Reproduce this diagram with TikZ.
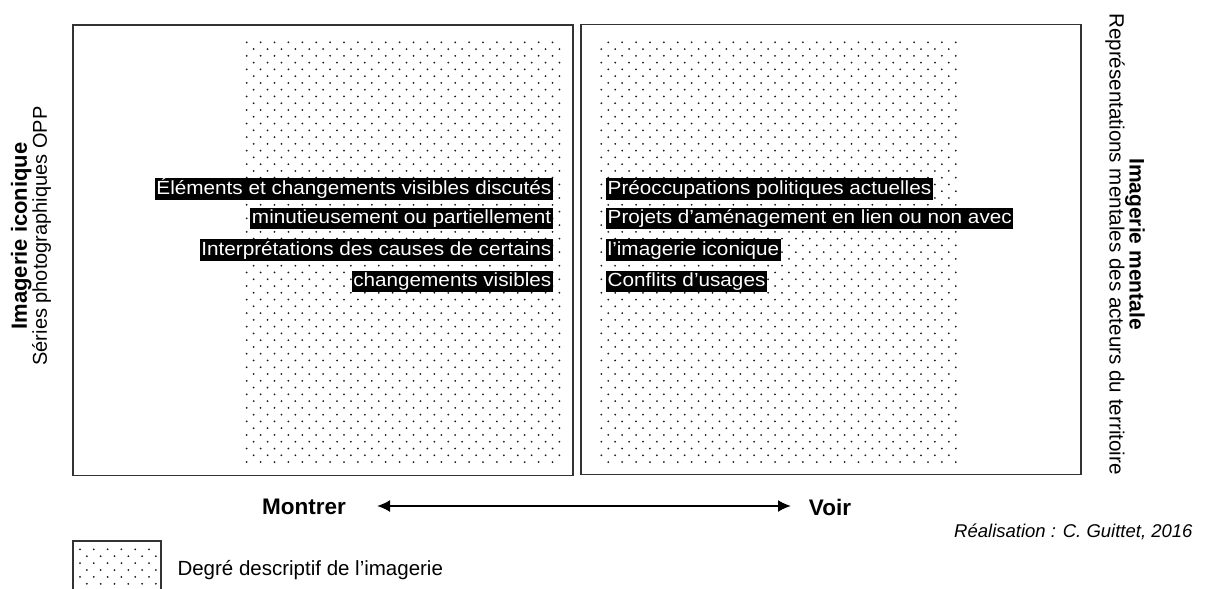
\documentclass[tikz,border=0pt]{standalone}
\usepackage{fontspec}
\setmainfont{Liberation Sans}
\newfontfamily\boxfont{Liberation Sans}[FakeStretch=1.09]
\usetikzlibrary{arrows.meta}
\tikzset{
  frame/.style={draw=black!80, line width=1.6pt},
  dot/.style={fill=black!90},
  hl/.style={fill=black, text=white, font=\boxfont\fontsize{19}{22}\selectfont,
     inner xsep=1.5pt, inner ysep=1.2pt, text height=14.5pt, text depth=4.3pt},
  axis/.style={font=\bfseries\fontsize{22.5}{26}\selectfont},
  vlabel/.style={align=center},
  twoarrow/.style={line width=2pt, {Latex[length=13pt,width=12pt]}-{Latex[length=13pt,width=12pt]}}
}
\begin{document}
\begin{tikzpicture}[x=1pt,y=-1pt]
\clip (0,0) rectangle (1205,589);
\fill[white] (0,0) rectangle (1205,589);
% dot fields
\foreach \r in {0,...,62} {
  \pgfmathsetmacro{\yy}{42.3+\r*6.77}
  \pgfmathsetmacro{\xo}{mod(\r,2)*6.95}
  \pgfmathsetmacro{\xr}{mod(\r+1,2)*6.95}
  \foreach \c in {0,...,22} { \fill[dot] (246.7+\xo+\c*13.9,\yy) circle (1.0); }
  \foreach \c in {0,...,25} { \fill[dot] (601.3+\xr+\c*13.9,\yy) circle (1.0); }
}
% frames
\draw[frame] (72.7,25) rectangle (572.7,475.5);
\draw[frame] (580.7,24.5) rectangle (1080.7,474.5);
% left texts
\node[hl, anchor=east] (l1) at (553,189) {Éléments et changements visibles discutés};
\node[hl, anchor=east] (l2) at (553,218.5) {minutieusement ou partiellement};
\node[hl, anchor=east] (l3) at (553,250) {Interprétations des causes de certains};
\node[hl, anchor=east] (l4) at (553,281.5) {changements visibles};
% right texts
\node[hl, anchor=west] (r1) at (606,189) {Préoccupations politiques actuelles};
\node[hl, anchor=west] (r2) at (606,218.5) {Projets d’aménagement en lien ou non avec};
\node[hl, anchor=west] (r3) at (606,250) {l’imagerie iconique};
\node[hl, anchor=west] (r4) at (606,281.5) {Conflits d’usages};
% side labels
\node[vlabel, rotate=90, font=\fontsize{20}{20}\selectfont] (left) at (31,236) {{\bfseries\fontsize{22}{20}\selectfont Imagerie iconique}\\Séries photographiques OPP};
\node[vlabel, rotate=-90, font=\fontsize{20.6}{20}\selectfont] (right) at (1125,244) {{\bfseries\fontsize{21}{20}\selectfont Imagerie mentale}\\Représentations mentales des acteurs du territoire};
% axis
\node[axis] (montrer) at (304,507) {Montrer};
\node[axis] (voir) at (830,507) {Voir};
\coordinate (aL) at (377,506);
\coordinate (aR) at (791,506);
\draw[twoarrow] (aL) -- (aR);
% credit
\node[anchor=east, font=\itshape\fontsize{18.5}{20}\selectfont] (credit) at (1196,532) {Réalisation : C. Guittet, 2016};
% legend
\foreach \r in {0,...,6} {
  \pgfmathsetmacro{\yy}{549.3+\r*6.9}
  \pgfmathsetmacro{\xo}{mod(\r,2)*6.9}
  \foreach \c in {0,...,5} { \fill[dot] (80+\xo+\c*13.8,\yy) circle (1.0); }
}
\draw[frame] (72.7,541) rectangle (161,600);
\node[anchor=west, font=\fontsize{20.5}{22}\selectfont] (legtext) at (174,570) {Degré descriptif de l’imagerie};
\end{tikzpicture}
\end{document}
